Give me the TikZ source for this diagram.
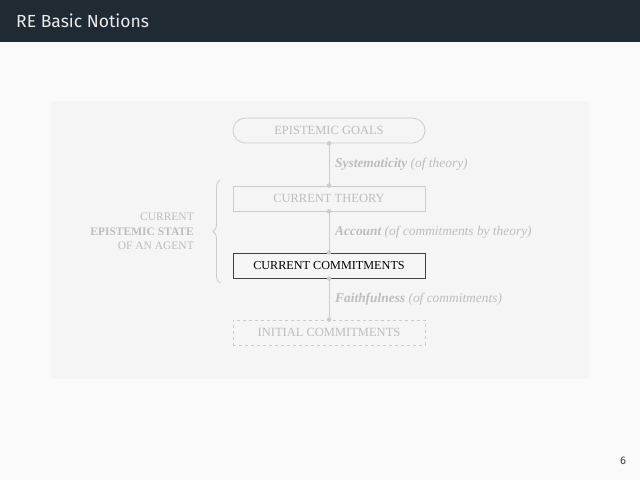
\documentclass[tikz,border=0pt]{standalone}
\usepackage{fontspec}
\setmainfont{Liberation Serif}
\newfontfamily\firasans{Fira Sans}
\usetikzlibrary{decorations.pathreplacing,shapes.misc}
\definecolor{hdr}{HTML}{1F2A33}
\definecolor{bg}{HTML}{FAFAFA}
\definecolor{panel}{HTML}{F5F5F5}
\definecolor{fade}{HTML}{BDBDBD}
\definecolor{faintline}{HTML}{CCCCCC}
\tikzset{
  box/.style={draw=faintline, line width=0.8pt, minimum width=192pt, minimum height=25pt, inner sep=0pt, text=fade, font=\fontsize{12.5}{14}\selectfont},
  goalbox/.style={box, rounded rectangle},
  curbox/.style={box, draw=black!75, line width=1pt, text=black, font=\fontsize{12.2}{14}\selectfont},
  initbox/.style={box, dashed},
  link/.style={draw=faintline, line width=0.8pt},
  dotend/.style={circle, fill=faintline, inner sep=0pt, minimum size=4.5pt},
  lab/.style={anchor=west, text=fade, inner sep=0pt, font=\fontsize{13.4}{15}\selectfont\itshape},
  sidelab/.style={align=right, anchor=east, text=fade, inner sep=0pt, font=\fontsize{11.5}{14.5}\selectfont}
}
\begin{document}
\begin{tikzpicture}[x=1pt,y=-1pt]
\useasboundingbox (0,0) rectangle (640,480);
\fill[bg] (0,0) rectangle (640,480);
\fill[hdr] (0,0) rectangle (640,42);
\node[anchor=base west, text=white!92!black, inner sep=0pt, font=\firasans\fontsize{17.5}{20}\selectfont] (title) at (16,27) {RE Basic Notions};
\fill[panel] (51,101) rectangle (589,379);
\node[goalbox] (goals) at (329,130.5) {EPISTEMIC GOALS};
\node[box] (theory) at (329,198.5) {CURRENT THEORY};
\node[curbox] (comm) at (329,265.5) {CURRENT COMMITMENTS};
\node[initbox] (init) at (329,332.5) {INITIAL COMMITMENTS};
\draw[link] (goals.south) -- (theory.north);
\draw[link] (theory.south) -- (comm.north);
\draw[link] (comm.south) -- (init.north);
\foreach \n in {goals.south,theory.north,theory.south,comm.north,comm.south,init.north}
  \node[dotend] at (\n) {};
\node[lab] (l1) at (335,164.5) {\textbf{Systematicity} (of theory)};
\node[lab] (l2) at (335,232) {\textbf{Account} (of commitments by theory)};
\node[lab] (l3) at (335,299.5) {\textbf{Faithfulness} (of commitments)};
\draw[faintline, line width=0.8pt, decorate, decoration={brace, amplitude=7pt}] (220,283) coordinate (bb) -- (220,180) coordinate (bt);
\node[sidelab] (state) at (194,231.5) {CURRENT\\\textbf{EPISTEMIC STATE}\\OF AN AGENT};
\node[anchor=base, text=black!75, inner sep=0pt, font=\firasans\fontsize{11}{12}\selectfont] (pg) at (623,464) {6};
\end{tikzpicture}
\end{document}
